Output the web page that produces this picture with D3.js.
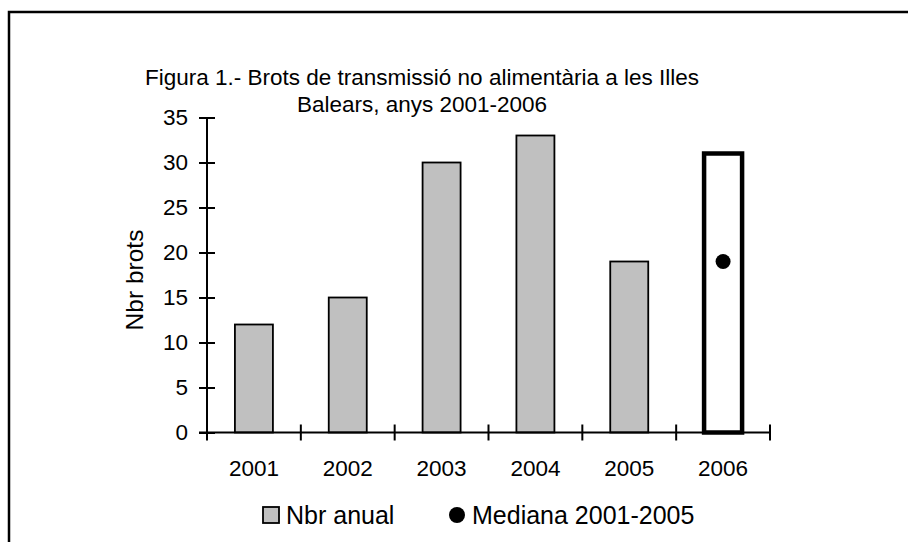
<!DOCTYPE html>
<html>
<head>
<meta charset="utf-8">
<style>
  body { margin: 0; background: #fff; }
  svg text { font-family: "Liberation Sans", Arial, sans-serif; fill: #000; }
</style>
</head>
<body>
<svg id="chart" width="908" height="542"></svg>
<script src="https://cdn.jsdelivr.net/npm/d3@7/dist/d3.min.js"></script>
<script>
// data
var years = ["2001", "2002", "2003", "2004", "2005", "2006"];
var annual = [12, 15, 30, 33, 19, 31];
var median = [null, null, null, null, null, 19];
var yTicks = [0, 5, 10, 15, 20, 25, 30, 35];
var titleLines = ["Figura 1.- Brots de transmissió no alimentària a les Illes", "Balears, anys 2001-2006"];

var fs = 22.5;
var svg = d3.select("#chart");

// chart frame (only top and left edges are visible in the crop)
svg.append("path")
  .attr("d", "M9,542 V12 H908")
  .attr("fill", "none")
  .attr("stroke", "#000")
  .attr("stroke-width", 2.5);

var x = d3.scaleBand().domain(years).range([207, 770]).padding(0);
var y = d3.scaleLinear().domain([0, 35]).range([432.5, 117.5]);

// title
svg.append("g").selectAll("text")
  .data(titleLines)
  .enter().append("text")
  .attr("x", 422)
  .attr("y", function(d, i) { return 85 + i * 27; })
  .attr("text-anchor", "middle")
  .attr("font-size", fs)
  .text(function(d) { return d; });

// bars
var bw = x.bandwidth() * 0.405;
svg.append("g").selectAll("rect")
  .data(years)
  .enter().append("rect")
  .attr("x", function(d) { return x(d) + x.bandwidth() / 2 - bw / 2; })
  .attr("y", function(d, i) { return y(annual[i]); })
  .attr("width", bw)
  .attr("height", function(d, i) { return y(0) - y(annual[i]); })
  .attr("fill", function(d, i) { return i === 5 ? "#fff" : "#c0c0c0"; })
  .attr("stroke", "#000")
  .attr("stroke-width", function(d, i) { return i === 5 ? 4.5 : 1.8; });

// median dot
svg.append("g").selectAll("circle")
  .data(years.filter(function(d, i) { return median[i] != null; }))
  .enter().append("circle")
  .attr("cx", function(d) { return x(d) + x.bandwidth() / 2; })
  .attr("cy", function(d) { return y(median[years.indexOf(d)]); })
  .attr("r", 7.5)
  .attr("fill", "#000");

// y axis
var yAxis = svg.append("g").attr("transform", "translate(207,0)")
  .call(d3.axisLeft(y).tickValues(yTicks).tickSize(8).tickSizeOuter(0).tickPadding(11));
yAxis.selectAll(".tick line").attr("x2", -8).attr("x1", 8);
yAxis.select(".domain").attr("d", "M0," + y(35) + "V" + y(0));

// x axis with ticks on band boundaries
var bounds = years.map(function(d) { return x(d); }).concat([770]);
var xAxis = svg.append("g").attr("transform", "translate(0," + y(0) + ")");
xAxis.append("line").attr("x1", 199).attr("x2", 770).attr("stroke", "#000").attr("stroke-width", 2);
xAxis.selectAll(".bt").data(bounds).enter().append("line")
  .attr("x1", function(d) { return d; }).attr("x2", function(d) { return d; })
  .attr("y1", -8).attr("y2", 8)
  .attr("stroke", "#000").attr("stroke-width", 2);
xAxis.selectAll(".lbl").data(years).enter().append("text")
  .attr("x", function(d) { return x(d) + x.bandwidth() / 2; })
  .attr("y", 43)
  .attr("text-anchor", "middle")
  .attr("font-size", fs)
  .text(function(d) { return d; });

svg.selectAll(".domain, .tick line").attr("stroke", "#000").attr("stroke-width", 2);
svg.selectAll(".tick text").attr("font-size", fs).attr("fill", "#000")
  .attr("font-family", "'Liberation Sans', Arial, sans-serif");

// y title
svg.append("text")
  .attr("transform", "translate(143,280) rotate(-90)")
  .attr("text-anchor", "middle")
  .attr("font-size", 24.5)
  .text("Nbr brots");

// legend
var lg = svg.append("g");
lg.append("rect").attr("x", 263).attr("y", 507).attr("width", 16).attr("height", 16)
  .attr("fill", "#c0c0c0").attr("stroke", "#000").attr("stroke-width", 1.8);
lg.append("text").attr("x", 286).attr("y", 524).attr("font-size", 25).text("Nbr anual");
lg.append("circle").attr("cx", 457).attr("cy", 515).attr("r", 8).attr("fill", "#000");
lg.append("text").attr("x", 472).attr("y", 524).attr("font-size", 25).text("Mediana 2001-2005");
</script>
</body>
</html>
